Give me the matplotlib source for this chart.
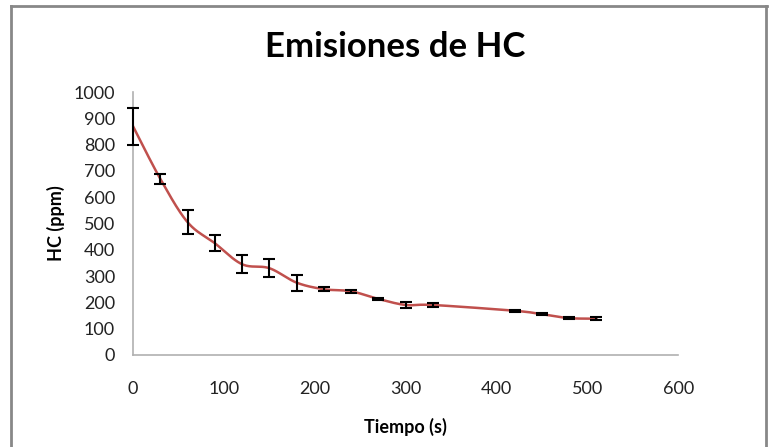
import numpy as np
import matplotlib.pyplot as plt
from matplotlib.lines import Line2D

plt.rcParams['font.family'] = ['Lato', 'DejaVu Sans']

# data
tiempo = [0, 30, 60, 90, 120, 150, 180, 210, 240, 270, 300, 330, 420, 450, 480, 510]
hc = [870, 670, 505, 425, 345, 330, 275, 250, 242, 213, 190, 190, 168, 155, 140, 138]
err = [70, 20, 45, 30, 35, 35, 30, 8, 5, 5, 10, 7, 3, 3, 3, 5]


def smooth(x, y, n=20):
    # Catmull-Rom curve through the points, like Excel's smoothed line
    x = np.asarray(x, float)
    y = np.asarray(y, float)
    px = np.concatenate([[x[0]], x, [x[-1]]])
    py = np.concatenate([[y[0]], y, [y[-1]]])
    t = np.linspace(0, 1, n)
    xs, ys = [], []
    for i in range(1, len(px) - 2):
        p0, p1, p2, p3 = [np.array([px[j], py[j]]) for j in range(i - 1, i + 3)]
        c1 = p1 + (p2 - p0) / 6
        c2 = p2 - (p3 - p1) / 6
        b = ((1 - t) ** 3)[:, None] * p1 + (3 * (1 - t) ** 2 * t)[:, None] * c1 \
            + (3 * (1 - t) * t ** 2)[:, None] * c2 + (t ** 3)[:, None] * p2
        xs.append(b[:, 0])
        ys.append(b[:, 1])
    return np.concatenate(xs), np.concatenate(ys)


fig = plt.figure(figsize=(7.69, 4.47), dpi=100)
ax = fig.add_axes([0.173, 0.206, 0.709, 0.588])

sx, sy = smooth(tiempo, hc)
ax.plot(sx, sy, color='#c0504d', linewidth=1.8, zorder=2)
eb = ax.errorbar(tiempo, hc, yerr=err, fmt='none', ecolor='black',
                 elinewidth=1.5, capsize=4, capthick=1.5, zorder=3)
for a in eb.lines[1] + eb.lines[2]:
    a.set_clip_on(False)

ax.set_xlim(0, 600)
ax.set_ylim(0, 1000)
ax.set_xticks(np.arange(0, 601, 100))
ax.set_yticks(np.arange(0, 1001, 100))
ax.tick_params(length=0, labelsize=13, colors='#222222')
ax.tick_params(axis='x', pad=19)
ax.tick_params(axis='y', pad=13)
for s in ['top', 'right']:
    ax.spines[s].set_visible(False)
for s in ['left', 'bottom']:
    ax.spines[s].set_color('#b0b0b0')
    ax.spines[s].set_linewidth(1.2)

ax.set_xlabel('Tiempo (s)', fontsize=13, fontweight='bold', labelpad=15)
ax.set_ylabel('HC (ppm)', fontsize=13, fontweight='bold', labelpad=6)
fig.text(0.514, 0.895, 'Emisiones de HC', ha='center', va='center',
         fontsize=25, fontweight='bold')

# outer chart frame
for xy in [([0.0143, 0.0143], [0.0, 0.987]), ([0.0143, 0.997], [0.987, 0.987]),
           ([0.996, 0.996], [0.0, 0.987])]:
    fig.add_artist(Line2D(xy[0], xy[1], color='#888888', linewidth=2))

fig.savefig('out.png', dpi=100)
